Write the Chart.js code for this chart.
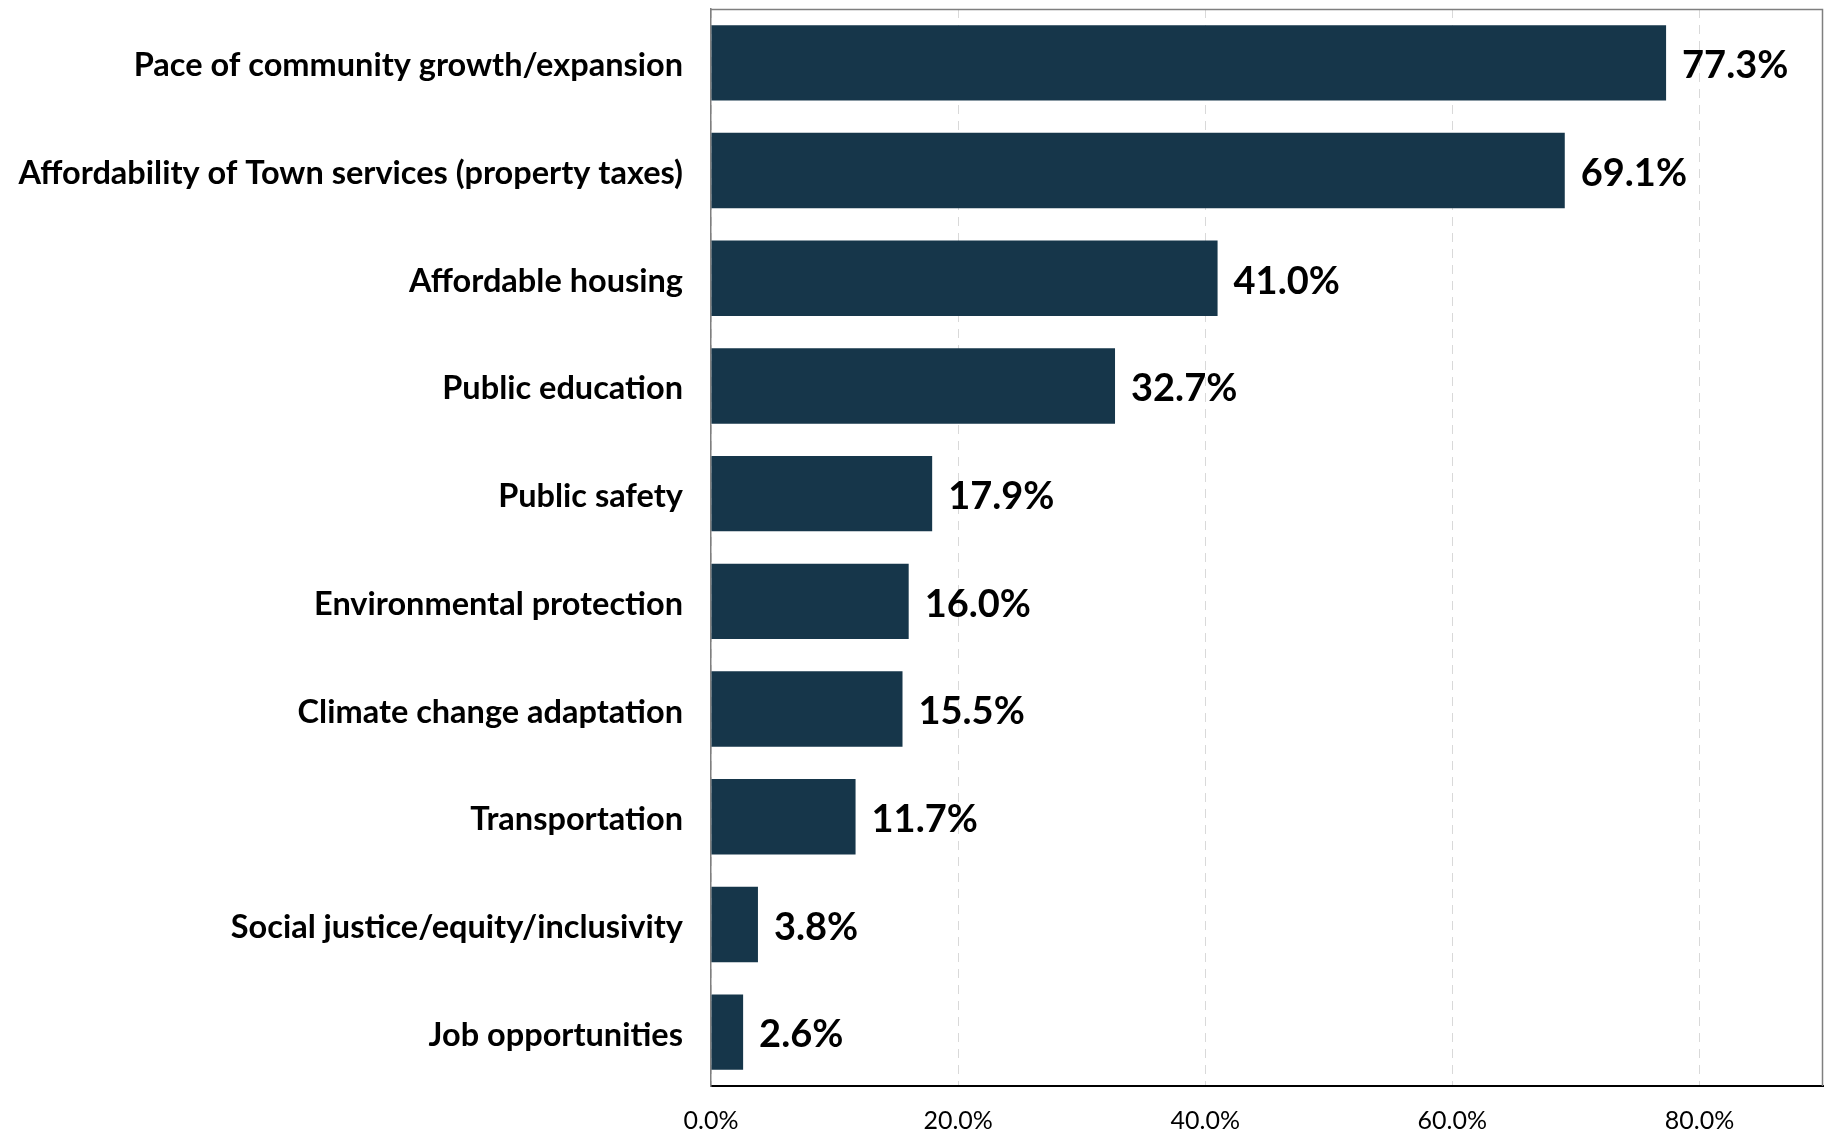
<!DOCTYPE html>
<html>
<head>
<script src="https://cdn.jsdelivr.net/npm/chart.js"></script>
<title>Community priorities</title>
<style>
  body { margin: 0; background: #fff; }
  #wrap { width: 1824px; height: 1131px; }
</style>
</head>
<body>
<div id="wrap"><canvas id="myChart" width="1824" height="1131"></canvas></div>
<script>
const categories = [
  'Pace of community growth/expansion',
  'Affordability of Town services (property taxes)',
  'Affordable housing',
  'Public education',
  'Public safety',
  'Environmental protection',
  'Climate change adaptation',
  'Transportation',
  'Social justice/equity/inclusivity',
  'Job opportunities'
];
const values = [77.3, 69.1, 41.0, 32.7, 17.9, 16.0, 15.5, 11.7, 3.8, 2.6];
const tickValues = [0, 20, 40, 60, 80];

const FONT = 'Lato, "Open Sans", sans-serif';

// value labels right of each bar
const valueLabels = {
  id: 'valueLabels',
  afterDatasetsDraw(chart) {
    const ctx = chart.ctx;
    const meta = chart.getDatasetMeta(0);
    ctx.save();
    ctx.font = 'bold 38px ' + FONT;
    ctx.fillStyle = '#000';
    ctx.textAlign = 'left';
    ctx.textBaseline = 'middle';
    meta.data.forEach((bar, i) => {
      ctx.fillText(values[i].toFixed(1) + '%', bar.x + 16, bar.y + 3);
    });
    ctx.restore();
  }
};

// thin frame round the plot area
const frame = {
  id: 'frame',
  afterDraw(chart) {
    const a = chart.chartArea;
    const ctx = chart.ctx;
    ctx.save();
    ctx.strokeStyle = '#7f7f7f';
    ctx.lineWidth = 1.5;
    ctx.beginPath();
    ctx.moveTo(a.left, a.top + 0.5);
    ctx.lineTo(a.right - 0.5, a.top + 0.5);
    ctx.lineTo(a.right - 0.5, a.bottom);
    ctx.stroke();
    ctx.restore();
  }
};

new Chart(document.getElementById('myChart'), {
  type: 'bar',
  data: {
    labels: categories,
    datasets: [{
      data: values,
      backgroundColor: '#16364a',
      categoryPercentage: 1.0,
      barPercentage: 0.7
    }]
  },
  options: {
    indexAxis: 'y',
    responsive: false,
    animation: false,
    layout: { padding: { top: 9, right: 1, left: 0, bottom: 0 } },
    plugins: {
      legend: { display: false },
      tooltip: { enabled: false }
    },
    scales: {
      x: {
        min: 0,
        max: 90,
        afterBuildTicks(scale) {
          scale.ticks = tickValues.map(v => ({ value: v }));
        },
        afterFit(scale) {
          scale.height = 45;
          scale.paddingLeft = 0;
          scale.paddingRight = 0;
        },
        grid: {
          color: '#d9d9d9',
          lineWidth: 1,
          drawTicks: false
        },
        border: { color: '#000', width: 2, dash: [9, 7] },
        ticks: {
          padding: 20,
          color: '#000',
          font: { family: FONT, size: 25 },
          callback: v => v.toFixed(1) + '%'
        }
      },
      y: {
        afterFit(scale) {
          scale.width = 711;
          scale.paddingTop = 0;
          scale.paddingBottom = 0;
        },
        grid: { display: false, drawTicks: false },
        border: { color: '#7f7f7f', width: 1.5 },
        ticks: {
          padding: 28,
          labelOffset: 3,
          color: '#000',
          font: { family: FONT, size: 32.5, weight: 'bold' }
        }
      }
    }
  },
  plugins: [valueLabels, frame]
});
</script>
</body>
</html>
